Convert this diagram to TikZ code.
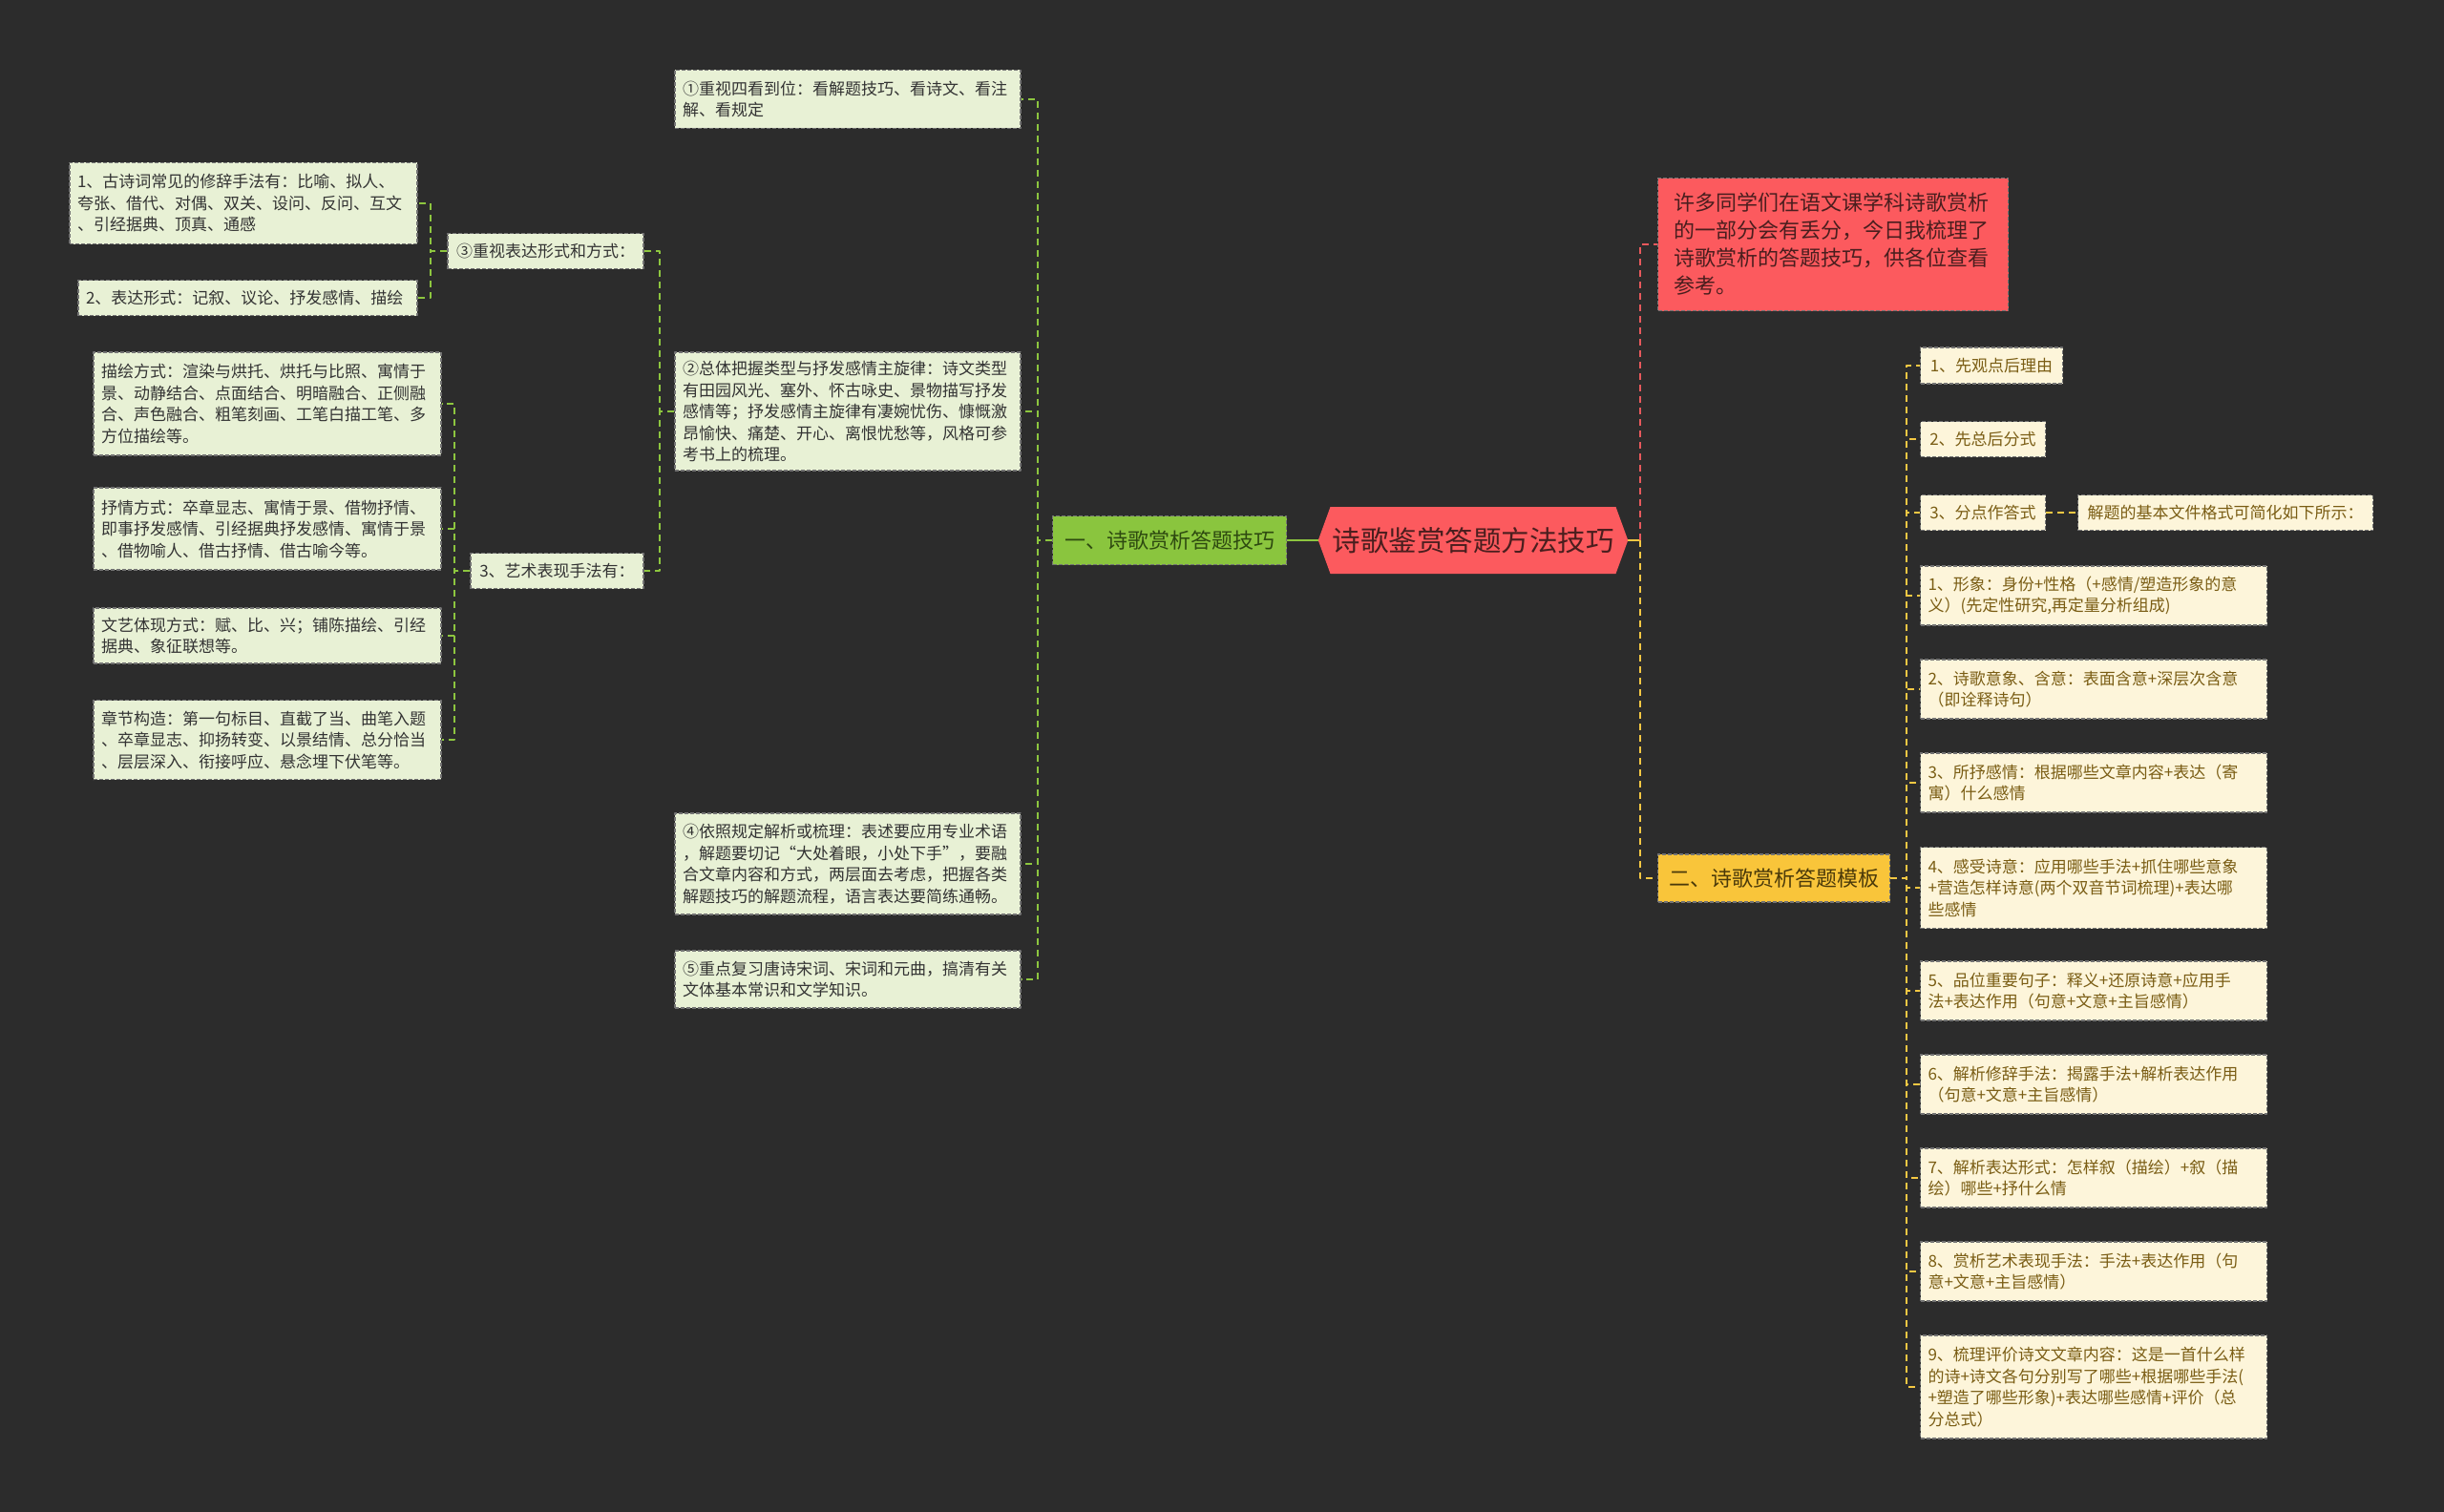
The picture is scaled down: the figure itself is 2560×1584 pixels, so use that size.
\documentclass[tikz,border=0pt]{standalone}
\usepackage{fontspec}
\newfontfamily\cjk{Noto Sans CJK SC}
\usetikzlibrary{shapes.symbols}
\definecolor{bg}{HTML}{2C2C2C}
\definecolor{cred}{HTML}{FC5A5E}
\definecolor{ctext}{HTML}{4A1E1E}
\definecolor{gmain}{HTML}{8AC53E}
\definecolor{gtext}{HTML}{2E4A10}
\definecolor{gleaf}{HTML}{E8F1D5}
\definecolor{ymain}{HTML}{F9C53A}
\definecolor{ytext}{HTML}{4B3A0A}
\definecolor{yleaf}{HTML}{FDF5DA}
\definecolor{yltext}{HTML}{7A5D14}
\definecolor{gline}{HTML}{8DC63F}
\definecolor{yline}{HTML}{F5C843}
\definecolor{rline}{HTML}{E8595C}
\newcommand{\leaffont}{\cjk\fontsize{17}{22.5}\selectfont}
\newcommand{\branchfont}{\cjk\fontsize{22}{29}\selectfont}
\newcommand{\rootfont}{\cjk\fontsize{29.5}{34}\selectfont}
\tikzset{
  box/.style={line width=1.2pt, dash pattern=on 4pt off 2pt, draw=black!55, inner ysep=2pt},
  gbox/.style={box, fill=gleaf, text=black!80, font=\leaffont, align=left, inner xsep=8pt},
  ybox/.style={box, fill=yleaf, text=yltext, font=\leaffont, align=left, inner xsep=8pt},
  gconn/.style={draw=gline, line width=2pt, dash pattern=on 7pt off 5pt},
  yconn/.style={draw=yline, line width=2pt, dash pattern=on 7pt off 5pt},
  rconn/.style={draw=rline, line width=2pt, dash pattern=on 7pt off 5pt},
}
\begin{document}
\begin{tikzpicture}[x=1pt, y=-1pt, line join=round]
\fill[bg] (0,0) rectangle (2560,1584);
\useasboundingbox (0,0) rectangle (2560,1584);
% centre
\node[signal, signal to=west and east, signal pointer angle=140, fill=cred, text=ctext,
  font=\rootfont, minimum height=70pt, inner xsep=2pt] (root) at (1543,566) {诗歌鉴赏答题方法技巧};
% left branch
\node[box, fill=gmain, text=gtext, font=\branchfont, minimum width=245pt, minimum height=51pt] (bone) at (1225,566) {一、诗歌赏析答题技巧};
\node[gbox, text width=346pt, minimum height=61pt] (g1) at (888,104) {①重视四看到位：看解题技巧、看诗文、看注\\解、看规定};
\node[gbox, text width=346pt, minimum height=124pt] (g2) at (888,431) {②总体把握类型与抒发感情主旋律：诗文类型\\有田园风光、塞外、怀古咏史、景物描写抒发\\感情等；抒发感情主旋律有凄婉忧伤、慷慨激\\昂愉快、痛楚、开心、离恨忧愁等，风格可参\\考书上的梳理。};
\node[gbox, text width=346pt, minimum height=106pt] (g4) at (888,905) {④依照规定解析或梳理：表述要应用专业术语\\，解题要切记“大处着眼，小处下手”，要融\\合文章内容和方式，两层面去考虑，把握各类\\解题技巧的解题流程，语言表达要简练通畅。};
\node[gbox, text width=346pt, minimum height=60pt] (g5) at (888,1026) {⑤重点复习唐诗宋词、宋词和元曲，搞清有关\\文体基本常识和文学知识。};
\node[gbox, minimum width=205pt, minimum height=37pt] (form) at (571.5,263) {③重视表达形式和方式：};
\node[gbox, minimum width=181pt, minimum height=37pt] (art) at (583.5,598) {3、艺术表现手法有：};
\node[gbox, text width=348pt, minimum height=85pt] (fa) at (255,213) {1、古诗词常见的修辞手法有：比喻、拟人、\\夸张、借代、对偶、双关、设问、反问、互文\\、引经据典、顶真、通感};
\node[gbox, text width=339pt, minimum height=37pt] (fb) at (259.5,312) {2、表达形式：记叙、议论、抒发感情、描绘};
\node[gbox, text width=348pt, minimum height=108pt] (aa) at (280,423) {描绘方式：渲染与烘托、烘托与比照、寓情于\\景、动静结合、点面结合、明暗融合、正侧融\\合、声色融合、粗笔刻画、工笔白描工笔、多\\方位描绘等。};
\node[gbox, text width=348pt, minimum height=86pt] (ab) at (280,554) {抒情方式：卒章显志、寓情于景、借物抒情、\\即事抒发感情、引经据典抒发感情、寓情于景\\、借物喻人、借古抒情、借古喻今等。};
\node[gbox, text width=348pt, minimum height=58pt] (ac) at (280,666) {文艺体现方式：赋、比、兴；铺陈描绘、引经\\据典、象征联想等。};
\node[gbox, text width=348pt, minimum height=83pt] (ad) at (280,775) {章节构造：第一句标目、直截了当、曲笔入题\\、卒章显志、抑扬转变、以景结情、总分恰当\\、层层深入、衔接呼应、悬念埋下伏笔等。};
% right side
\node[box, fill=cred, text=ctext, font=\branchfont, align=left, text width=333pt, inner xsep=17pt, minimum height=139pt] (intro) at (1920,256) {许多同学们在语文课学科诗歌赏析\\的一部分会有丢分，今日我梳理了\\诗歌赏析的答题技巧，供各位查看\\参考。};
\node[box, fill=ymain, text=ytext, font=\branchfont, minimum width=243pt, minimum height=50pt] (btwo) at (1858,920) {二、诗歌赏析答题模板};
\node[ybox, minimum width=149pt, minimum height=38pt] (r1) at (2086,383) {1、先观点后理由};
\node[ybox, minimum width=131pt, minimum height=37pt] (r2) at (2077,460) {2、先总后分式};
\node[ybox, minimum width=131pt, minimum height=37pt] (r3) at (2077,537) {3、分点作答式};
\node[ybox, minimum width=309pt, minimum height=37pt] (r3a) at (2331,537) {解题的基本文件格式可简化如下所示：};
\node[ybox, text width=347pt, minimum height=62pt] (t1) at (2193,624) {1、形象：身份+性格（+感情/塑造形象的意\\义）(先定性研究,再定量分析组成)};
\node[ybox, text width=347pt, minimum height=62pt] (t2) at (2193,722) {2、诗歌意象、含意：表面含意+深层次含意\\（即诠释诗句）};
\node[ybox, text width=347pt, minimum height=62pt] (t3) at (2193,820) {3、所抒感情：根据哪些文章内容+表达（寄\\寓）什么感情};
\node[ybox, text width=347pt, minimum height=85pt] (t4) at (2193,930) {4、感受诗意：应用哪些手法+抓住哪些意象\\+营造怎样诗意(两个双音节词梳理)+表达哪\\些感情};
\node[ybox, text width=347pt, minimum height=62pt] (t5) at (2193,1038) {5、品位重要句子：释义+还原诗意+应用手\\法+表达作用（句意+文意+主旨感情）};
\node[ybox, text width=347pt, minimum height=62pt] (t6) at (2193,1136) {6、解析修辞手法：揭露手法+解析表达作用\\（句意+文意+主旨感情）};
\node[ybox, text width=347pt, minimum height=62pt] (t7) at (2193,1234) {7、解析表达形式：怎样叙（描绘）+叙（描\\绘）哪些+抒什么情};
\node[ybox, text width=347pt, minimum height=62pt] (t8) at (2193,1332) {8、赏析艺术表现手法：手法+表达作用（句\\意+文意+主旨感情）};
\node[ybox, text width=347pt, minimum height=108pt] (t9) at (2193,1453) {9、梳理评价诗文文章内容：这是一首什么样\\的诗+诗文各句分别写了哪些+根据哪些手法(\\+塑造了哪些形象)+表达哪些感情+评价（总\\分总式）};
% connectors
\draw[gline, line width=2.5pt] (root.west) -- (bone.east);
\coordinate (rj) at ([xshift=13pt]root.east);
\draw[yline, line width=2.5pt] (root.east) -- (rj);
\draw[rconn] (rj) |- (intro.west);
\draw[yconn] (rj) |- (btwo.west);
\foreach \n in {g1,g2,g4,g5}
  \draw[gconn] (bone.west) -- ++(-15,0) |- (\n.east);
\foreach \n in {form,art}
  \draw[gconn] (g2.west) -- ++(-15,0) |- (\n.east);
\foreach \n in {fa,fb}
  \draw[gconn] (form.west) -- ++(-17,0) |- (\n.east);
\foreach \n in {aa,ab,ac,ad}
  \draw[gconn] (art.west) -- ++(-16,0) |- (\n.east);
\foreach \n in {r1,r2,r3,t1,t2,t3,t4,t5,t6,t7,t8,t9}
  \draw[yconn] (btwo.east) -- ++(17,0) |- (\n.west);
\draw[yconn] (r3.east) -- (r3a.west);
\end{tikzpicture}
\end{document}
